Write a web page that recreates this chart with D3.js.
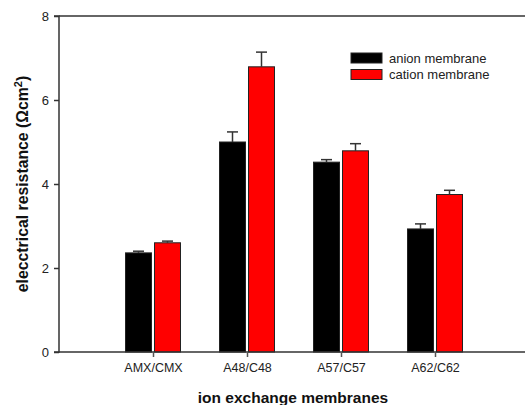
<!DOCTYPE html>
<html>
<head>
<meta charset="utf-8">
<script src="https://cdn.jsdelivr.net/npm/d3@7"></script>
<style>
  html, body { margin: 0; padding: 0; background: #fff; }
  svg { display: block; font-family: Arial, "Liberation Sans", sans-serif; }
</style>
</head>
<body>
<svg id="chart" width="525" height="405"></svg>
<script>
// Membrane pairs and measured resistances (mean and upper error)
const categories = ["AMX/CMX", "A48/C48", "A57/C57", "A62/C62"];
const anionValues = [2.36, 5.00, 4.52, 2.93];
const anionErrors = [0.04, 0.24, 0.06, 0.12];
const cationValues = [2.60, 6.79, 4.79, 3.75];
const cationErrors = [0.04, 0.35, 0.17, 0.10];
const yTicks = [0, 2, 4, 6, 8];
const seriesNames = ["anion membrane", "cation membrane"];
const seriesColors = ["#000000", "#ff0000"];

const svg = d3.select("#chart");
const plotLeft = 59, plotTop = 16, plotBottom = 352, plotRight = 529;

const x = d3.scaleLinear().domain([0, categories.length + 1]).range([plotLeft, plotRight]);
const y = d3.scaleLinear().domain([0, 8]).range([plotBottom, plotTop]);
const barW = 26, gap = 1.5;

const series = [
  { values: anionValues, errors: anionErrors, color: seriesColors[0], offset: -gap - barW },
  { values: cationValues, errors: cationErrors, color: seriesColors[1], offset: gap }
];

// Bars
series.forEach(s => {
  svg.append("g").selectAll("rect")
    .data(categories.map((c, i) => ({ i, v: s.values[i] })))
    .join("rect")
    .attr("x", d => x(d.i + 1) + s.offset)
    .attr("y", d => y(d.v))
    .attr("width", barW)
    .attr("height", d => y(0) - y(d.v))
    .attr("fill", s.color)
    .attr("stroke", "#222")
    .attr("stroke-width", 1);
});

// Upper error bars
series.forEach(s => {
  const g = svg.append("g").attr("stroke", "#333").attr("stroke-width", 1.5).attr("fill", "none");
  categories.forEach((c, i) => {
    const cx = x(i + 1) + s.offset + barW / 2;
    const y0 = y(s.values[i]);
    const y1 = y(s.values[i] + s.errors[i]);
    g.append("line").attr("x1", cx).attr("x2", cx).attr("y1", y0).attr("y2", y1);
    g.append("line").attr("x1", cx - 5.5).attr("x2", cx + 5.5).attr("y1", y1).attr("y2", y1);
  });
});

// Y axis
const yAxis = d3.axisLeft(y).tickValues(yTicks).tickSize(5).tickPadding(5).tickFormat(d3.format("d"));
const gy = svg.append("g").attr("transform", `translate(${plotLeft},0)`).call(yAxis);
gy.select(".domain").attr("stroke", "#333").attr("stroke-width", 1.5).attr("d", `M-5,${plotBottom}H0V${plotTop}H-5`);
gy.selectAll(".tick line").attr("stroke", "#333").attr("stroke-width", 1.5);
gy.selectAll(".tick text").attr("font-size", 13).attr("fill", "#222").attr("font-family", "Arial, 'Liberation Sans', sans-serif");

// Top frame line
svg.append("line").attr("x1", plotLeft).attr("x2", 525).attr("y1", plotTop).attr("y2", plotTop)
  .attr("stroke", "#333").attr("stroke-width", 1.5);

// X axis
const xAxis = d3.axisBottom(x).tickValues(d3.range(1, categories.length + 1))
  .tickSize(5).tickPadding(6).tickFormat(d => categories[d - 1]);
const gx = svg.append("g").attr("transform", `translate(0,${plotBottom})`).call(xAxis);
gx.select(".domain").attr("stroke", "#333").attr("stroke-width", 1.5).attr("d", `M${plotLeft},0H525`);
gx.selectAll(".tick line").attr("stroke", "#555").attr("stroke-width", 1.5);
gx.selectAll(".tick text").attr("font-size", 12.5).attr("fill", "#222").attr("font-family", "Arial, 'Liberation Sans', sans-serif");

// Axis titles
const yTitle = svg.append("text")
  .attr("transform", `translate(28,${(plotTop + plotBottom) / 2}) rotate(-90)`)
  .attr("text-anchor", "middle")
  .attr("font-size", 15.8).attr("font-weight", "bold").attr("fill", "#111");
yTitle.append("tspan").text("elecctrical resistance (Ωcm");
yTitle.append("tspan").attr("font-size", 11).attr("dy", -6.5).text("2");
yTitle.append("tspan").attr("dy", 6.5).text(")");

svg.append("text")
  .attr("x", 293).attr("y", 403)
  .attr("text-anchor", "middle")
  .attr("font-size", 15.5).attr("font-weight", "bold").attr("fill", "#111")
  .text("ion exchange membranes");

// Legend
const legend = svg.append("g");
seriesNames.forEach((name, i) => {
  const ly = 53 + i * 16.5;
  legend.append("rect").attr("x", 351).attr("y", ly).attr("width", 31).attr("height", 10)
    .attr("fill", seriesColors[i]).attr("stroke", "#222").attr("stroke-width", 1);
  legend.append("text").attr("x", 389).attr("y", ly + 9.5)
    .attr("font-size", 13).attr("fill", "#222").text(name);
});
</script>
</body>
</html>
